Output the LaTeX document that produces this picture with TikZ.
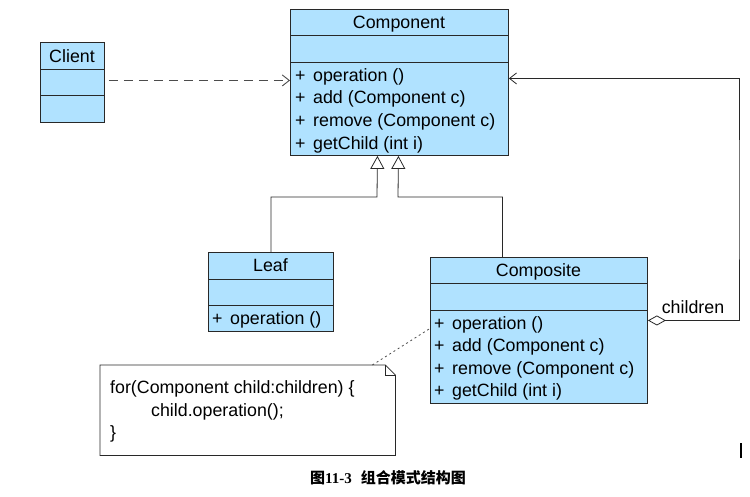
\documentclass[tikz,border=0pt]{standalone}
\usepackage{fontspec}
\setmainfont{Liberation Sans}
\newfontfamily\cjkfont{Noto Sans CJK SC}
\newfontfamily\serifnum{Liberation Serif}
\usetikzlibrary{arrows.meta}
\definecolor{clsfill}{RGB}{176,226,255}
\definecolor{lncol}{RGB}{40,40,40}
\begin{document}
\begin{tikzpicture}[x=1pt,y=-1pt,
  every node/.style={font=\fontsize{17.8}{20}\selectfont},
  clsbox/.style={draw=lncol,fill=clsfill,line width=0.9pt,inner sep=0pt,anchor=north west},
  sepline/.style={draw=lncol,line width=0.9pt},
  txt/.style={anchor=west,inner sep=0pt,text height=12.6pt,text depth=0pt},
  ttl/.style={anchor=center,inner sep=0pt,text height=12.6pt,text depth=0pt},
  inh/.style={draw=lncol,line width=0.8pt,-{Triangle[open,length=13pt,width=14pt]}},
  dep/.style={draw=gray!60!black,line width=0.9pt,dash pattern=on 9pt off 6pt,-{Straight Barb[length=7pt,width=11pt]}},
  agg/.style={draw=lncol,line width=0.8pt,{Diamond[open,length=18pt,width=10pt]}-{Straight Barb[length=7pt,width=11pt]}},
  notelink/.style={draw=gray!60!black,line width=0.8pt,dash pattern=on 2pt off 3pt}
]
\useasboundingbox (0,0) rectangle (750,497);
\newcommand{\op}[1]{\makebox[18pt][l]{+}#1}

% Component
\node[clsbox,minimum width=218pt,minimum height=146pt] (comp) at (290,9) {};
\draw[sepline] (290,35) -- (508,35) (290,62) -- (508,62);
\node[ttl] (compt) at (399,22) {Component};
\node[txt] (c1) at (295,75) {\op{operation ()}};
\node[txt] (c2) at (295,97) {\op{add (Component c)}};
\node[txt] (c3) at (295,120) {\op{remove (Component c)}};
\node[txt] (c4) at (295,143) {\op{getChild (int i)}};

% Client
\node[clsbox,minimum width=64pt,minimum height=80pt] (client) at (40,42) {};
\draw[sepline] (40,69) -- (104,69) (40,95) -- (104,95);
\node[ttl] (clientt) at (72,56) {Client};

% Leaf
\node[clsbox,minimum width=125pt,minimum height=79pt] (leaf) at (208,252) {};
\draw[sepline] (208,279) -- (333,279) (208,305) -- (333,305);
\node[ttl] (leaft) at (270.5,265) {Leaf};
\node[txt] (l1) at (212,318) {\op{operation ()}};

% Composite
\node[clsbox,minimum width=217pt,minimum height=146pt] (compo) at (430,257) {};
\draw[sepline] (430,283) -- (647,283) (430,310) -- (647,310);
\node[ttl] (compot) at (538.5,270) {Composite};
\node[txt] (p1) at (434,323) {\op{operation ()}};
\node[txt] (p2) at (434,345) {\op{add (Component c)}};
\node[txt] (p3) at (434,368) {\op{remove (Component c)}};
\node[txt] (p4) at (434,390) {\op{getChild (int i)}};

% Note
\node[inner sep=0pt,minimum width=295pt,minimum height=90pt,anchor=north west] (note) at (100,365) {};
\draw[draw=lncol,line width=0.8pt,fill=white]
  (note.north west) -- ([xshift=-10pt]note.north east) -- ([yshift=-10pt]note.north east)
  -- (note.south east) -- (note.south west) -- cycle;
\draw[draw=lncol,line width=0.8pt] ([xshift=-10pt]note.north east) -- ([xshift=-10pt,yshift=-10pt]note.north east) -- ([yshift=-10pt]note.north east);
\node[txt] (n1) at (110,387) {for(Component child:children) \{};
\node[txt] (n2) at (151,410) {child.operation();};
\node[txt] (n3) at (110,432) {\}};

% Connectors
\draw[dep] ([xshift=4pt,yshift=2pt]client.east) -- ([yshift=2pt]comp.west);
\draw[inh] (leaf.north) |- (377,197) -- ([xshift=-22pt]comp.south);
\draw[inh] ([xshift=-36.5pt]compo.north) |- (398,197) -- ([xshift=-1pt]comp.south);
\draw[agg] ([yshift=10pt]compo.east) -| (739,200) |- ([yshift=4pt]comp.east);
\node[inner sep=0pt] (chl) at (693,307) {children};
\draw[notelink] ([xshift=-23pt]note.north east) -- ([yshift=2pt]compo.west);

% stray mark
\draw[line width=2pt,black] (741,443) -- (741,458);

% Caption
\node[inner sep=0pt,font=\fontsize{15}{18}\selectfont] (cap) at (388,478)
  {\cjkfont\bfseries 图\serifnum\bfseries 11-3\hspace{0.6em}\cjkfont\bfseries 组合模式结构图};
\end{tikzpicture}
\end{document}
